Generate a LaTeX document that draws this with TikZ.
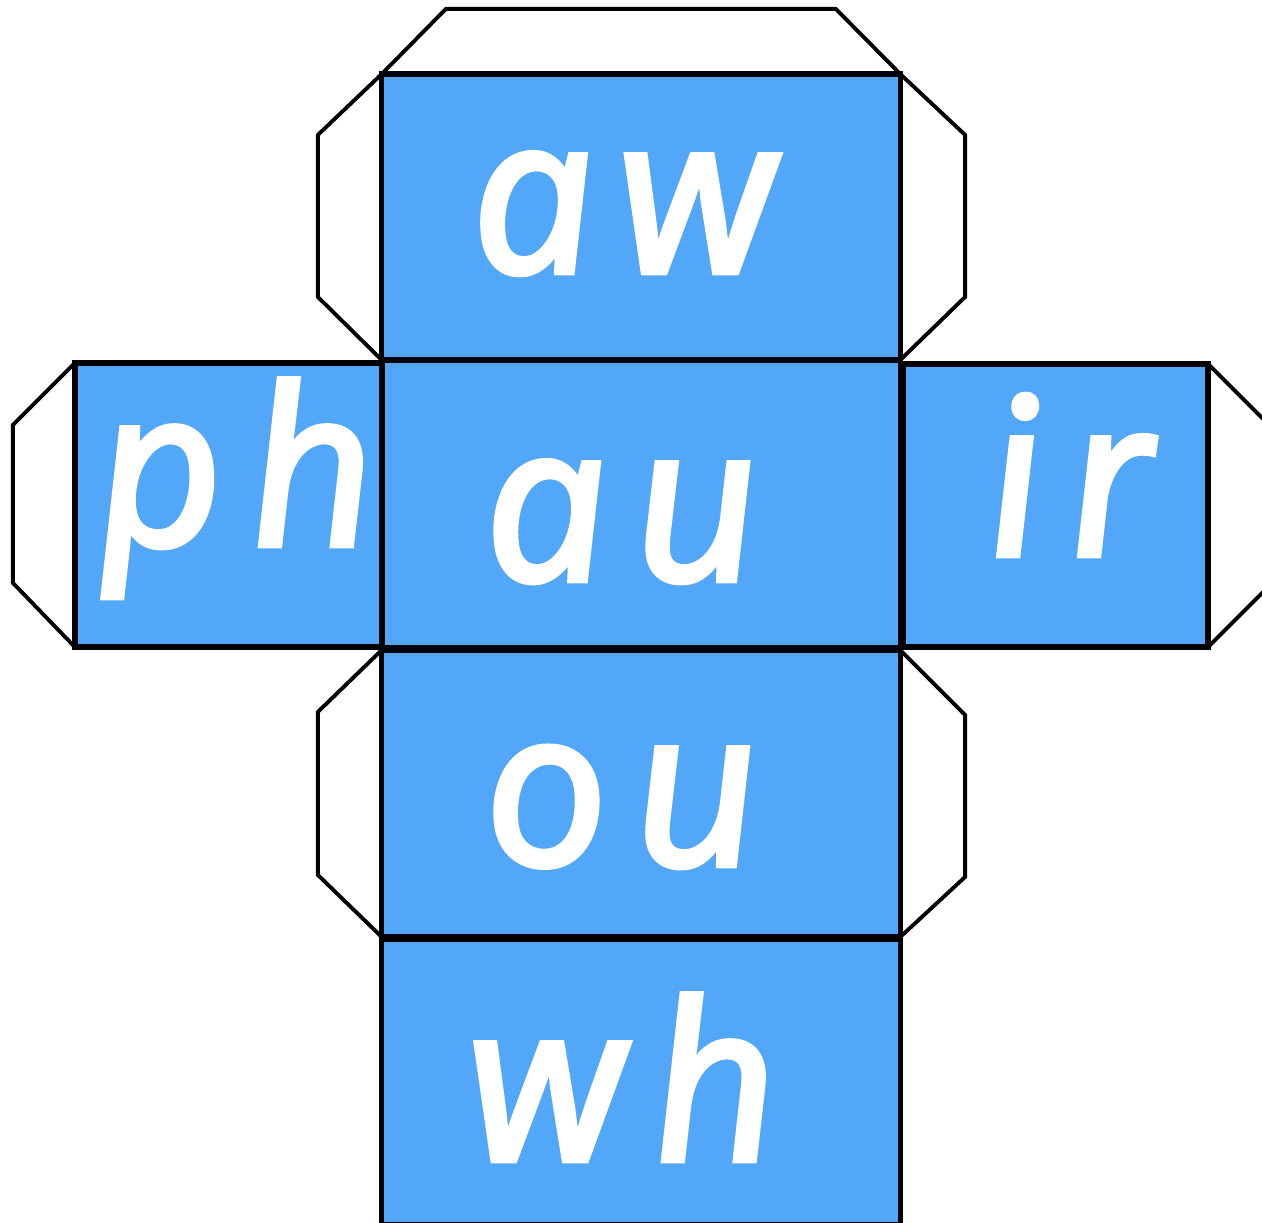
\documentclass[tikz,border=0pt]{standalone}
\usepackage{fontspec}
\newfontfamily\handfont[ItalicFeatures={FakeSlant=-0.1, FakeBold=3}, LetterSpace=12]{Open Sans}
\definecolor{faceblue}{RGB}{82,167,248}
\tikzset{
  face/.style={draw=black, line width=1.5pt, fill=faceblue, inner sep=0pt, outer sep=0pt},
  tab/.style={line width=1.1pt, line join=miter},
  glyph/.style={text=white, anchor=base, inner sep=0pt, font=\handfont\fontsize{62}{62}\selectfont\itshape}
}
\begin{document}
\begin{tikzpicture}[x=0.01cm,y=-0.01cm]
  \clip (0,0) rectangle (1262,1223);
  \fill[white] (0,0) rectangle (1262,1223);

  \node[face, minimum width=5.18cm, minimum height=2.86cm] (aw) at (641,217) {};
  \node[face, minimum width=5.18cm, minimum height=2.88cm] (au) at (641,504) {};
  \node[face, minimum width=3.07cm, minimum height=2.84cm] (ph) at (228.5,505) {};
  \node[face, minimum width=3.05cm, minimum height=2.83cm] (ir) at (1055.5,505.5) {};
  \node[face, minimum width=5.18cm, minimum height=2.87cm] (ou) at (641,793.5) {};
  \node[face, minimum width=5.18cm, minimum height=2.86cm] (wh) at (641,1082) {};

  \draw[tab] (aw.north west) -- ++(64,-65) -- ++(390,0) -- (aw.north east);
  \draw[tab] (aw.north west) -- ++(-64,61) -- ++(0,162) -- (aw.south west);
  \draw[tab] (aw.north east) -- ++(65,61) -- ++(0,162) -- (aw.south east);

  \draw[tab] (ph.north west) -- ++(-62,62) -- ++(0,158) -- (ph.south west);
  \draw[tab] (ir.north east) -- ++(70,70);
  \draw[tab] (ir.south east) -- ++(70,-70);

  \draw[tab] (ou.north west) -- ++(-64,62) -- ++(0,163) -- (ou.south west);
  \draw[tab] (ou.north east) -- ++(65,65) -- ++(0,162) -- (ou.south east);

  \node[glyph] (aw-t) at (630,272) {aw};
  \node[glyph] (au-t) at (628,580) {au};
  \node[glyph] (ph-t) at (242,545) {ph};
  \node[glyph] (ir-t) at (1077,555) {ir};
  \node[glyph] (ou-t) at (628,865) {ou};
  \node[glyph] (wh-t) at (630,1160) {wh};
\end{tikzpicture}
\end{document}
